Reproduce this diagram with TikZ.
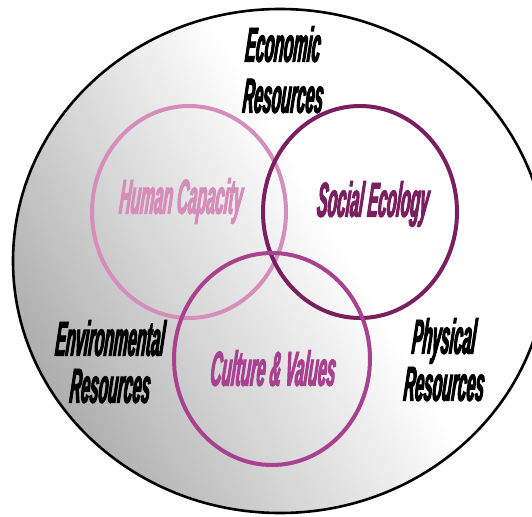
\documentclass[tikz,border=0pt]{standalone}
\usepackage{fontspec}
\newfontfamily\condfont[FakeStretch=0.32,FakeBold=2,FakeSlant=0.09]{Liberation Sans}
\definecolor{hcol}{HTML}{D68DBA}
\definecolor{scol}{HTML}{7A1F60}
\definecolor{ccol}{HTML}{A8418F}
\definecolor{bggrey}{HTML}{A6A6A6}
\pgfdeclarehorizontalshading{bgshade}{100bp}{color(0bp)=(bggrey); color(22bp)=(bggrey); color(40bp)=(bggrey!45); color(56bp)=(white); color(100bp)=(white)}
\begin{document}
\begin{tikzpicture}[x=1pt,y=-1pt,
  lbl/.style={font=\condfont\bfseries\itshape\fontsize{49}{47}\selectfont, align=center, inner sep=0pt, anchor=north},
  ring/.style={line width=4pt}]
\useasboundingbox (0,0) rectangle (532,516);
% outer circle
\shade[shading=bgshade, shading angle=30] (280,261) ellipse [x radius=267pt, y radius=252pt];
\draw[line width=2.6pt] (280,261) ellipse [x radius=267pt, y radius=252pt];
% inner circles
\draw[ring, hcol] (189,212) ellipse [x radius=97pt, y radius=106pt];
\draw[ring, scol] (360,212) ellipse [x radius=97pt, y radius=106pt];
\draw[ring, ccol] (272,359) ellipse [x radius=98pt, y radius=106pt];
% labels
\node[lbl] (econ) at (282,26) {Economic\\[4pt]Resources};
\node[lbl] (env) at (109,320) {Environmental\\Resources};
\node[lbl] (phys) at (443,318) {Physical\\Resources};
\node[lbl, text=hcol] (hum) at (180,178) {Human Capacity};
\node[lbl, text=scol] (soc) at (372,181) {Social Ecology};
\node[lbl, text=ccol] (cul) at (272,350) {Culture \& Values};
\end{tikzpicture}
\end{document}
